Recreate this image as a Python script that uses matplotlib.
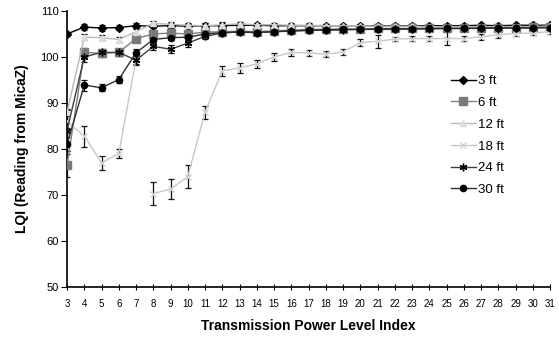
import matplotlib
matplotlib.use("Agg")
import matplotlib.pyplot as plt
import numpy as np

plt.rcParams.update({
    "font.family": ["Liberation Sans", "DejaVu Sans"],
    "font.size": 8,
})

power_level = list(range(3, 32))

lqi_3ft = [105.0, 106.5, 106.3, 106.4, 106.8, 106.7, 106.8, 106.7, 106.8, 106.8,
           106.9, 106.9, 106.8, 106.8, 106.8, 106.8, 106.8, 106.8, 106.8, 106.8,
           106.8, 106.8, 106.8, 106.8, 106.9, 106.8, 106.9, 106.9, 106.9]
lqi_6ft = [76.5, 101.0, 100.8, 101.0, 104.0, 105.0, 105.2, 105.0, 105.4, 105.5,
           105.6, 105.5, 105.7, 105.8, 106.0, 106.0, 106.1, 106.0, 106.2, 106.2,
           106.2, 106.3, 106.3, 106.2, 106.3, 106.4, 106.4, 106.5, 106.5]
lqi_12ft = [88.0, 104.3, 104.2, 103.8, 105.5, 107.3, 107.1, 106.9, 106.8, 107.0,
            107.2, 107.0, 107.0, 106.9, 106.9, 106.8, 106.8, 106.8, 106.7, 106.7,
            106.7, 106.6, 106.6, 106.6, 106.6, 106.6, 106.6, 106.6, 106.7]
lqi_18ft = [86.0, 82.8, 77.0, 79.0, 99.5, 70.3, 71.3, 74.0, 88.0, 97.0,
            97.6, 98.5, 100.0, 101.0, 100.9, 100.6, 101.1, 103.1, 103.4, 103.9,
            104.0, 104.0, 104.0, 104.0, 104.4, 104.8, 105.1, 105.2, 105.5]
lqi_24ft = [84.0, 100.0, 101.0, 101.0, 99.3, 102.3, 101.7, 103.0, 104.5, 105.2,
            105.5, 105.3, 105.5, 105.6, 105.8, 105.8, 105.9, 106.0, 106.0, 106.0,
            106.1, 106.1, 106.2, 106.2, 106.2, 106.3, 106.3, 106.3, 106.4]
lqi_30ft = [81.0, 93.9, 93.3, 95.1, 100.9, 103.8, 104.2, 104.3, 105.0, 105.3,
            105.4, 105.3, 105.5, 105.7, 105.8, 105.9, 106.0, 106.0, 106.1, 106.1,
            106.1, 106.2, 106.2, 106.2, 106.3, 106.3, 106.3, 106.4, 106.4]

err_3ft = [0.5, 0.6, 0.6, 0.5, 0.5, 0.5, 0.5, 0.5, 0.5, 0.5] + [0.4] * 19
err_6ft = [2.5, 1.0, 0.8, 0.8, 0.8, 0.6, 0.6, 0.6, 0.5, 0.5] + [0.4] * 19
err_12ft = [0.8, 0.6, 0.5, 0.5, 0.5, 0.5, 0.5, 0.5, 0.5, 0.5] + [0.4] * 19
err_18ft = [1.5, 2.3, 1.5, 0.9, 1.0, 2.5, 2.2, 2.5, 1.4, 1.1,
            1.0, 0.9, 0.9, 0.7, 0.7, 0.7, 0.7, 0.8, 1.4, 0.5,
            0.5, 0.6, 1.4, 0.6, 0.6, 0.6, 0.5, 0.5, 0.5]
err_24ft = [4.5, 1.0, 0.8, 0.8, 1.0, 0.8, 0.8, 0.8, 0.6, 0.6] + [0.5] * 19
err_30ft = [1.5, 1.2, 0.8, 0.7, 0.8, 0.8, 0.6, 0.6, 0.5, 0.5] + [0.5] * 19

series = [
    ("3 ft", lqi_3ft, err_3ft, dict(color="#000000", marker="D", ms=4, mfc="#000000", mec="#000000")),
    ("6 ft", lqi_6ft, err_6ft, dict(color="#808080", marker="s", ms=5.5, mfc="#7a7a7a", mec="#7a7a7a")),
    ("12 ft", lqi_12ft, err_12ft, dict(color="#b8b8b8", marker="^", ms=4.5, mfc="#dcdcdc", mec="#dcdcdc")),
    ("18 ft", lqi_18ft, err_18ft, dict(color="#c8c8c8", marker="x", ms=4.5, mfc="#d0d0d0", mec="#d0d0d0")),
    ("24 ft", lqi_24ft, err_24ft, dict(color="#404040", marker=(6, 2, 0), ms=5.5, mfc="#000000", mec="#000000")),
    ("30 ft", lqi_30ft, err_30ft, dict(color="#303030", marker="o", ms=4.5, mfc="#000000", mec="#000000")),
]

fig = plt.figure(figsize=(5.59, 3.38), dpi=100)
ax = fig.add_axes([0.1199, 0.1509, 0.8641, 0.8166])

x = np.array(power_level)
handles = []
for label, y, e, style in series:
    y = np.array(y)
    ax.errorbar(x, y, yerr=e, fmt="none", ecolor="#111111", elinewidth=0.9,
                capsize=2.5, capthick=0.9, zorder=2)
    if label == "18 ft":
        # the 18 ft run is broken between index 7 and 8
        ax.plot(x[:5], y[:5], lw=1, zorder=3, **style)
        h, = ax.plot(x[5:], y[5:], lw=1, zorder=3, **style)
    else:
        h, = ax.plot(x, y, lw=1, zorder=3, **style)
    h.set_label(label)
    handles.append(h)

ax.set_xlim(3, 31)
ax.set_ylim(50, 110)
ax.set_xticks(power_level)
ax.set_yticks(range(50, 111, 10))
ax.tick_params(axis="x", direction="inout", length=4, labelsize=7, pad=7)
ax.tick_params(axis="y", direction="out", length=4, labelsize=8, pad=2)
for side in ["top", "right"]:
    ax.spines[side].set_visible(False)
for side in ["left", "bottom"]:
    ax.spines[side].set_linewidth(1.2)

ax.set_xlabel("Transmission Power Level Index", fontsize=10, fontweight="bold", labelpad=7)
ax.set_ylabel("LQI (Reading from MicaZ)", fontsize=10, fontweight="bold", labelpad=8)

fig.legend(handles=handles, loc="upper left", bbox_to_anchor=(0.785, 0.813),
           frameon=False, fontsize=9.5, handlelength=1.9, handletextpad=0.2,
           labelspacing=0.72)

fig.savefig("out.png", dpi=100)
